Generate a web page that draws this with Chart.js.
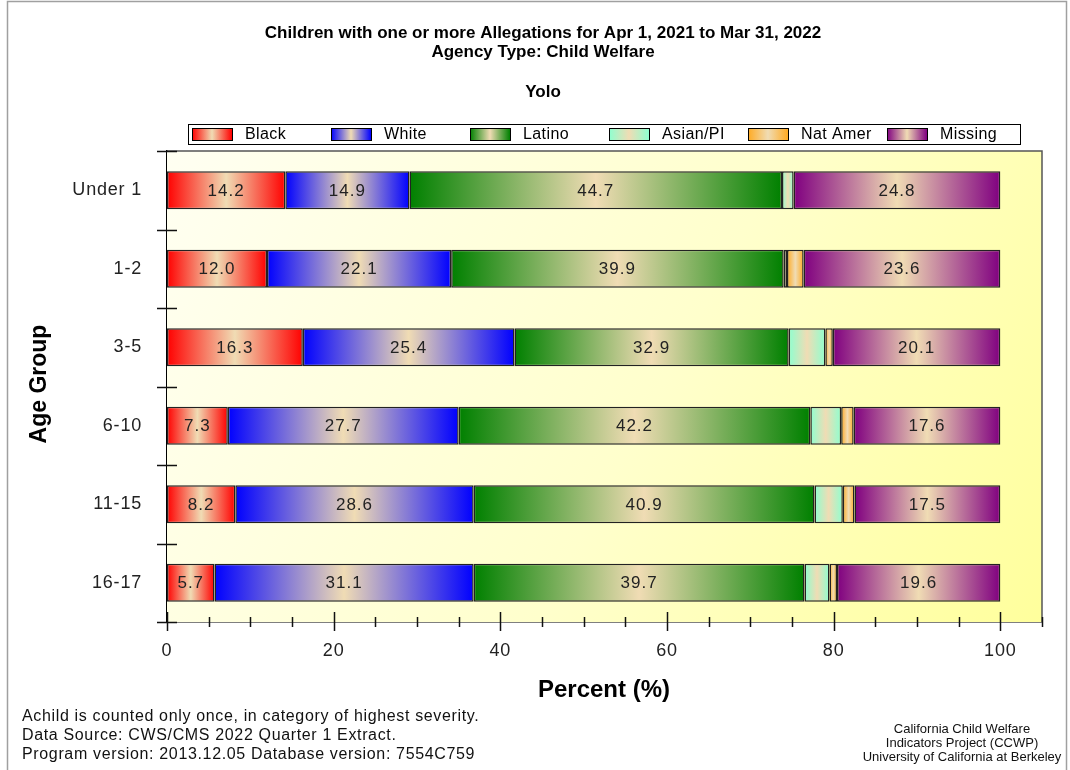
<!DOCTYPE html>
<html>
<head>
<meta charset="utf-8">
<title>Children with one or more Allegations - Yolo</title>
<script src="https://cdn.jsdelivr.net/npm/chart.js@4.4.0/dist/chart.umd.min.js"></script>
<style>
    html, body { margin: 0; padding: 0; background: #fff; }
    canvas { display: block; }
</style>
</head>
<body>
<canvas id="chart" width="1070" height="770"></canvas>
<script>
// Возрастные группы и доли по расе/этносу (%)
const ageGroups = ['Under 1', '1-2', '3-5', '6-10', '11-15', '16-17'];
const black   = [14.2, 12.0, 16.3,  7.3,  8.2,  5.7];
const white   = [14.9, 22.1, 25.4, 27.7, 28.6, 31.1];
const latino  = [44.7, 39.9, 32.9, 42.2, 40.9, 39.7];
const asianPI = [ 1.4,  0.4,  4.4,  3.7,  3.4,  3.0];
const natAmer = [ 0.0,  2.0,  0.9,  1.5,  1.4,  0.9];
const missing = [24.8, 23.6, 20.1, 17.6, 17.5, 19.6];
const xTicks = [0, 20, 40, 60, 80, 100];

const FONT = '"Liberation Sans", Arial, sans-serif';
const MID = '#f0dcb4';

// Серии: подпись, цвет, значения, показывать ли числа на барах
const series = [
    { label: 'Black',    color: '#ff0000', values: black,   showValue: true },
    { label: 'White',    color: '#0000ff', values: white,   showValue: true },
    { label: 'Latino',   color: '#008000', values: latino,  showValue: true },
    { label: 'Asian/PI', color: '#8effd0', values: asianPI, showValue: false },
    { label: 'Nat Amer', color: '#ffaa22', values: natAmer, showValue: false },
    { label: 'Missing',  color: '#800080', values: missing, showValue: true }
];

// Горизонтальный градиент цвет -> бежевый -> цвет
function makeGradient(ctx, x0, x1, color) {
    const g = ctx.createLinearGradient(x0, 0, x1, 0);
    g.addColorStop(0, color);
    g.addColorStop(0.5, MID);
    g.addColorStop(1, color);
    return g;
}

// Заливка сегмента считается по накопленной сумме предыдущих серий
function segmentFill(dsIndex) {
    return function(context) {
        const chart = context.chart;
        const xs = chart.scales.x;
        const color = series[dsIndex].color;
        if (!xs || context.type !== 'data') return color;
        const i = context.dataIndex;
        let start = 0;
        for (let d = 0; d < dsIndex; d++) start += series[d].values[i];
        const end = start + series[dsIndex].values[i];
        const x0 = xs.getPixelForValue(start);
        const x1 = xs.getPixelForValue(end);
        if (!isFinite(x0) || !isFinite(x1) || x1 - x0 < 0.5) return color;
        return makeGradient(chart.ctx, x0, x1, color);
    };
}

// Фон области графика
const plotBackground = {
    id: 'plotBackground',
    beforeDatasetsDraw(chart) {
        const { ctx, chartArea: a } = chart;
        ctx.save();
        const g = ctx.createLinearGradient(a.left, a.top, a.right, a.bottom);
        g.addColorStop(0, '#fffff2');
        g.addColorStop(0.55, '#ffffcc');
        g.addColorStop(1, '#ffff9c');
        ctx.fillStyle = g;
        ctx.fillRect(a.left, a.top, a.right - a.left, a.bottom - a.top);
        ctx.strokeStyle = '#555';
        ctx.lineWidth = 1.5;
        ctx.beginPath();
        ctx.moveTo(a.left, a.top);
        ctx.lineTo(a.right, a.top);
        ctx.lineTo(a.right, a.bottom);
        ctx.stroke();
        ctx.restore();
    }
};

// Засечки осей: границы категорий по Y, основные и промежуточные по X
const axisMarks = {
    id: 'axisMarks',
    afterDraw(chart) {
        const { ctx, chartArea: a, scales } = chart;
        ctx.save();
        ctx.strokeStyle = '#111';
        ctx.lineWidth = 1.5;
        ctx.beginPath();
        for (let k = 0; k <= ageGroups.length; k++) {
            const y = Math.round(scales.y.getPixelForValue(k - 0.5)) + 0.5;
            ctx.moveTo(a.left - 10, y);
            ctx.lineTo(a.left + 10, y);
        }
        for (let v = 0; v <= scales.x.max; v += 5) {
            const x = Math.round(scales.x.getPixelForValue(v)) + 0.5;
            const major = xTicks.includes(v);
            ctx.moveTo(x, a.bottom - (major ? 10 : 5));
            ctx.lineTo(x, a.bottom + (major ? 9 : 5));
        }
        ctx.stroke();
        ctx.restore();
    }
};

// Числа внутри сегментов
const valueLabels = {
    id: 'valueLabels',
    afterDatasetsDraw(chart) {
        const ctx = chart.ctx;
        ctx.save();
        ctx.font = '17px ' + FONT;
        ctx.letterSpacing = '1px';
        ctx.fillStyle = '#222';
        ctx.textAlign = 'center';
        ctx.textBaseline = 'middle';
        series.forEach((s, d) => {
            if (!s.showValue) return;
            chart.getDatasetMeta(d).data.forEach((bar, i) => {
                const cx = (bar.x + bar.base) / 2;
                ctx.fillText(s.values[i].toFixed(1), cx, bar.y + 1);
            });
        });
        ctx.restore();
    }
};

// Заголовки, подписи осей, легенда и сноски
const decorations = {
    id: 'decorations',
    beforeDraw(chart) {
        chart.ctx.letterSpacing = '0.8px';
    },
    afterDraw(chart) {
        const ctx = chart.ctx;
        ctx.save();
        ctx.letterSpacing = '0px';
        ctx.fillStyle = '#000';
        ctx.textBaseline = 'middle';

        // рамка страницы
        ctx.strokeStyle = '#a0a0a0';
        ctx.lineWidth = 1.5;
        ctx.strokeRect(7.5, 1.5, 1059, 800);

        ctx.textAlign = 'center';
        ctx.font = 'bold 17px "Liberation Sans Narrow", ' + FONT;
        ctx.fillText('Children with one or more Allegations for Apr 1, 2021 to Mar 31, 2022', 543, 33);
        ctx.fillText('Agency Type: Child Welfare', 543, 52);
        ctx.fillText('Yolo', 543, 92);

        // подписи осей
        ctx.font = 'bold 24px ' + FONT;
        ctx.fillText('Percent (%)', 604, 690);
        ctx.save();
        ctx.translate(40, 384);
        ctx.rotate(-Math.PI / 2);
        ctx.font = 'bold 23px ' + FONT;
        ctx.fillText('Age Group', 0, 0);
        ctx.restore();

        // легенда
        ctx.fillStyle = '#fff';
        ctx.fillRect(188, 124, 832, 20);
        ctx.strokeStyle = '#000';
        ctx.lineWidth = 1;
        ctx.strokeRect(188.5, 124.5, 832, 20);
        ctx.textAlign = 'left';
        ctx.font = '16px ' + FONT;
        ctx.letterSpacing = '0.4px';
        series.forEach((s, k) => {
            const x = 192 + k * 139;
            ctx.fillStyle = makeGradient(ctx, x, x + 40, s.color);
            ctx.fillRect(x, 128, 40, 12);
            ctx.strokeStyle = '#000';
            ctx.strokeRect(x + 0.5, 128.5, 40, 12);
            ctx.fillStyle = '#000';
            ctx.fillText(s.label, x + 53, 135);
        });

        // сноски слева
        ctx.font = '16px ' + FONT;
        ctx.letterSpacing = '0.65px';
        ctx.fillStyle = '#111';
        ctx.fillText('Achild is counted only once, in category of highest severity.', 22, 717);
        ctx.fillText('Data Source: CWS/CMS 2022 Quarter 1 Extract.', 22, 736);
        ctx.fillText('Program version: 2013.12.05 Database version: 7554C759', 22, 755);

        // сноски справа
        ctx.textAlign = 'center';
        ctx.font = '13px ' + FONT;
        ctx.letterSpacing = '0px';
        ctx.fillText('California Child Welfare', 962, 729);
        ctx.fillText('Indicators Project (CCWP)', 962, 743);
        ctx.fillText('University of California at Berkeley', 962, 757);
        ctx.restore();
    }
};

const chart = new Chart(document.getElementById('chart'), {
    type: 'bar',
    data: {
        labels: ageGroups,
        datasets: series.map((s, d) => ({
            label: s.label,
            data: s.values,
            backgroundColor: segmentFill(d),
            borderColor: '#222',
            borderWidth: (c) => (s.values[c.dataIndex] > 0 ? 1.5 : 0),
            borderSkipped: false,
            barPercentage: 0.485,
            categoryPercentage: 1
        }))
    },
    options: {
        indexAxis: 'y',
        responsive: false,
        animation: false,
        layout: { padding: { top: 151, right: 28, left: 0, bottom: 0 } },
        plugins: {
            legend: { display: false },
            title: { display: false },
            tooltip: { enabled: false }
        },
        scales: {
            x: {
                stacked: true,
                min: 0,
                max: 105,
                grid: { display: false, drawTicks: false },
                border: { display: true, color: '#000', width: 1.5 },
                afterBuildTicks: (scale) => { scale.ticks = xTicks.map(v => ({ value: v })); },
                afterFit: (scale) => { scale.height = 148; },
                ticks: { padding: 18, color: '#222', font: { family: FONT, size: 18 } }
            },
            y: {
                stacked: true,
                grid: { display: false, drawTicks: false },
                border: { display: true, color: '#000', width: 1.5 },
                afterFit: (scale) => { scale.width = 167; },
                ticks: { padding: 25, color: '#222', font: { family: FONT, size: 18 } }
            }
        }
    },
    plugins: [plotBackground, valueLabels, axisMarks, decorations]
});
</script>
</body>
</html>
